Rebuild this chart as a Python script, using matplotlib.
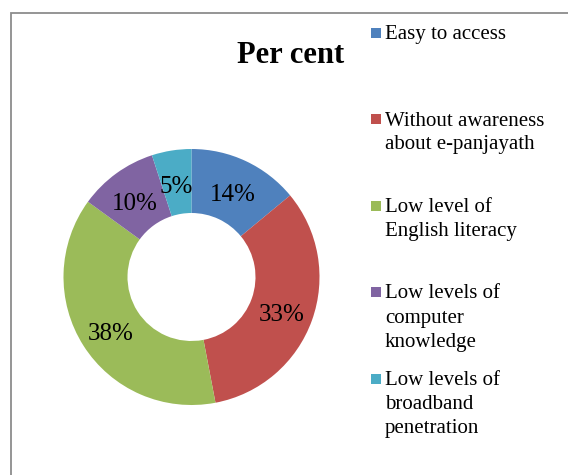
import matplotlib.pyplot as plt
from matplotlib.patches import Rectangle

plt.rcParams['font.family'] = ['Liberation Serif', 'DejaVu Serif']

# survey shares
categories = ['Easy to access',
              'Without awareness\nabout e-panjayath',
              'Low level of\nEnglish literacy',
              'Low levels of\ncomputer\nknowledge',
              'Low levels of\nbroadband\npenetration']
values = [14, 33, 38, 10, 5]
colors = ['#4F81BD', '#C0504D', '#9BBB59', '#8064A2', '#4BACC6']

W, H = 568, 475
fig = plt.figure(figsize=(W / 100, H / 100), dpi=100)
fig.patch.set_facecolor('white')

# outer frame, cut off on the right and bottom
fig.add_artist(Rectangle((10.5 / W, -0.1), 1.2, 1.1 - 13.5 / H,
                         transform=fig.transFigure, fill=False,
                         edgecolor='#8c8c8c', linewidth=1.3))

# donut, centre (191.5, 277) px, radius 128 px
cx, cy, r = 191.5, 277, 128
ax = fig.add_axes([(cx - r) / W, (H - cy - r) / H, 2 * r / W, 2 * r / H])
wedges, texts, autotexts = ax.pie(values, colors=colors, startangle=90, counterclock=False,
                                  radius=1.0, autopct='%1.0f%%', pctdistance=0.75,
                                  wedgeprops=dict(width=0.5, linewidth=0),
                                  textprops=dict(fontsize=18, color='black'))
# nudge the percentage labels down a little
for t in autotexts:
    x, y = t.get_position()
    t.set_position((x, y - 0.04))
ax.set_xlim(-1, 1)
ax.set_ylim(-1, 1)
ax.set_aspect('equal')
ax.axis('off')

fig.text(290.5 / W, 1 - 63 / H, 'Per cent', ha='center', va='baseline',
         fontsize=22, fontweight='bold')

# legend drawn by hand: square marker plus wrapped label lines
first_base = 39
entry_gap = 86.5
line_gap = 24
for i, (lab, col) in enumerate(zip(categories, colors)):
    base = first_base + i * entry_gap
    fig.add_artist(Rectangle((370.7 / W, 1 - (base - 1.5) / H), 10 / W, 10 / H,
                             transform=fig.transFigure, facecolor=col, edgecolor='none'))
    for j, line in enumerate(lab.split('\n')):
        fig.text(385 / W, 1 - (base + j * line_gap) / H, line, ha='left', va='baseline',
                 fontsize=15)

fig.savefig('out.png', dpi=100)
